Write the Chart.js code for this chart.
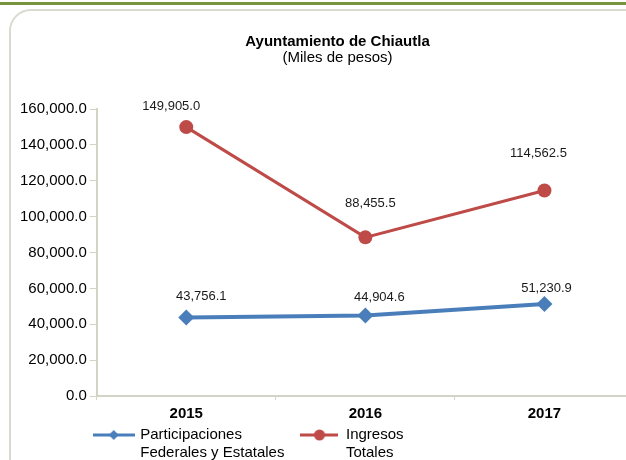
<!DOCTYPE html>
<html>
<head>
<meta charset="utf-8">
<script src="https://cdn.jsdelivr.net/npm/chart.js"></script>
<style>
  html, body { margin: 0; padding: 0; width: 626px; height: 460px; overflow: hidden; background: #fff; }
  .topline { position: absolute; left: 0; top: 2px; width: 626px; height: 3px; background: #77933C; }
  .frame { position: absolute; left: 9px; top: 9px; width: 640px; height: 470px; border: 2px solid #DADAD0; border-radius: 22px; }
  #chart { position: absolute; left: 0; top: 0; }
</style>
</head>
<body>
<div class="topline"></div>
<div class="frame"></div>
<canvas id="chart" width="680" height="500"></canvas>
<script>
// Data (miles de pesos)
const years = ['2015', '2016', '2017'];
const participaciones = [43756.1, 44904.6, 51230.9];
const ingresos = [149905.0, 88455.5, 114562.5];
const seriesNames = [['Participaciones', 'Federales y Estatales'], ['Ingresos', 'Totales']];

// Y axis range
const yMin = 0;
const yMax = 160000;
const yStep = 20000;

// Label offsets from each point (as placed in the original)
const participacionesLabelOffset = [[15, -21], [14, -18], [2, -16]];
const ingresosLabelOffset = [[-15, -21], [5, -34], [-6, -37]];

const BLUE = '#4A7EBB';
const RED = '#BE4B48';
const AXIS = '#D3D3C6';
const FONT = '"Liberation Sans", Arial, Helvetica, sans-serif';

Chart.defaults.font.family = FONT;
Chart.defaults.color = '#000';

const fmt = v => v.toLocaleString('en-US', { minimumFractionDigits: 1, maximumFractionDigits: 1 });

// Multi-line legend text; measured by its longest line
function legendText(lines) {
  const t = lines.slice();
  const longest = lines.reduce((a, b) => (a.length > b.length ? a : b));
  t.toString = () => longest;
  return t;
}

// Small line+marker icon for the legend
function legendIcon(color, marker, w) {
  const c = document.createElement('canvas');
  c.width = w;
  c.height = 14;
  const g = c.getContext('2d');
  g.strokeStyle = color;
  g.fillStyle = color;
  g.lineWidth = 3;
  g.beginPath();
  g.moveTo(0, 7);
  g.lineTo(w, 7);
  g.stroke();
  g.beginPath();
  if (marker === 'diamond') {
    g.moveTo(w / 2 - 5, 7);
    g.lineTo(w / 2, 2);
    g.lineTo(w / 2 + 5, 7);
    g.lineTo(w / 2, 12);
  } else {
    g.arc(w / 2, 7, 5.5, 0, Math.PI * 2);
  }
  g.fill();
  return c;
}

// Draw value labels above points
const pointLabels = {
  id: 'pointLabels',
  afterDatasetsDraw(chart) {
    const ctx = chart.ctx;
    ctx.save();
    ctx.font = '13px ' + FONT;
    ctx.fillStyle = '#1a1a1a';
    ctx.textAlign = 'center';
    ctx.textBaseline = 'middle';
    chart.data.datasets.forEach((ds, i) => {
      chart.getDatasetMeta(i).data.forEach((pt, j) => {
        const off = ds.labelOffset[j];
        ctx.fillText(fmt(ds.data[j]), pt.x + off[0], pt.y + off[1]);
      });
    });
    ctx.restore();
  }
};

// Move title block and legend to where the original has them
const nudgeBoxes = {
  id: 'nudgeBoxes',
  afterLayout(chart) {
    const area = chart.chartArea;
    chart.boxes.forEach(b => {
      if (b.options && typeof b.options.text !== 'undefined' && b.position === 'top') {
        b.left += 12;
        b.right += 12;
      }
    });
    const lg = chart.legend;
    if (lg) {
      lg.left = area.left - 18;
      lg.top = area.bottom + 15.5;
      lg.bottom = chart.height;
      lg.height = lg.bottom - lg.top;
      lg.width = lg.right - lg.left;
    }
  }
};

new Chart(document.getElementById('chart'), {
  type: 'line',
  data: {
    labels: years,
    datasets: [
      {
        label: seriesNames[0].join(' '),
        data: participaciones,
        labelOffset: participacionesLabelOffset,
        borderColor: BLUE,
        backgroundColor: BLUE,
        borderWidth: 4,
        pointStyle: 'rectRot',
        pointRadius: 8,
        pointBorderWidth: 0,
        pointBackgroundColor: BLUE,
        tension: 0,
      },
      {
        label: seriesNames[1].join(' '),
        data: ingresos,
        labelOffset: ingresosLabelOffset,
        borderColor: RED,
        backgroundColor: RED,
        borderWidth: 3,
        pointStyle: 'circle',
        pointRadius: 7,
        pointBorderWidth: 0,
        pointBackgroundColor: RED,
        tension: 0,
      },
    ],
  },
  options: {
    responsive: false,
    animation: false,
    layout: {
      padding: { left: 17, right: 46, top: 0, bottom: 31 },
    },
    plugins: {
      title: {
        display: true,
        text: 'Ayuntamiento de Chiautla',
        color: '#000',
        font: { size: 15, weight: 'bold', lineHeight: 1 },
        padding: { top: 34, bottom: 0 },
      },
      subtitle: {
        display: true,
        text: '(Miles de pesos)',
        color: '#000',
        font: { size: 15, lineHeight: 1 },
        padding: { top: 1, bottom: 44 },
      },
      legend: {
        position: 'bottom',
        align: 'start',
        labels: {
          usePointStyle: true,
          pointStyleWidth: 38,
          padding: 16,
          color: '#000',
          font: { size: 15 },
          generateLabels(chart) {
            const icons = [legendIcon(BLUE, 'diamond', 42), legendIcon(RED, 'circle', 38)];
            return chart.data.datasets.map((ds, i) => ({
              text: legendText(seriesNames[i]),
              pointStyle: icons[i],
              fillStyle: ds.borderColor,
              strokeStyle: ds.borderColor,
              lineWidth: 0,
              fontColor: '#000',
              datasetIndex: i,
              hidden: false,
            }));
          },
        },
      },
      tooltip: { enabled: false },
    },
    scales: {
      x: {
        offset: true,
        grid: { offset: true, drawOnChartArea: false, tickLength: 4, color: AXIS },
        border: { color: AXIS, width: 2 },
        ticks: { padding: 5, color: '#000', font: { size: 15, weight: 'bold' } },
      },
      y: {
        min: yMin,
        max: yMax,
        grid: { drawOnChartArea: false, tickLength: 7, color: AXIS },
        border: { color: AXIS, width: 2 },
        ticks: {
          stepSize: yStep,
          padding: 3,
          color: '#000',
          font: { size: 15 },
          callback: v => fmt(v),
        },
      },
    },
  },
  plugins: [pointLabels, nudgeBoxes],
});
</script>
</body>
</html>
